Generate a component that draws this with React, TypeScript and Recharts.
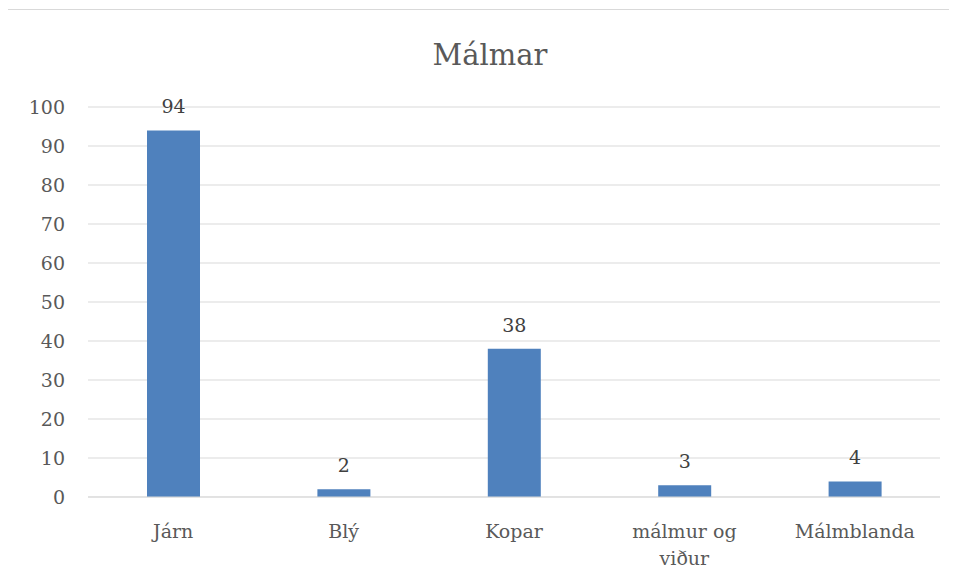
import { Bar, BarChart, CartesianGrid, LabelList, XAxis, YAxis, Text } from "recharts";

const CATEGORIES = ["Járn", "Blý", "Kopar", "málmur og viður", "Málmblanda"];
const VALUES = [94, 2, 38, 3, 4];
const Y_TICKS = [0, 10, 20, 30, 40, 50, 60, 70, 80, 90, 100];

const FONT = '"DejaVu Serif", serif';
const BAR_COLOR = "#4f81bd";
const GRID = "#d9d9d9";

const data = CATEGORIES.map((name, i) => ({ name, value: VALUES[i] }));

const CategoryTick = ({ x, y, payload }: any) => (
  <Text
    x={x}
    y={y + 20}
    width={130}
    textAnchor="middle"
    verticalAnchor="start"
    lineHeight={27}
    style={{ fontFamily: FONT, fontSize: 19 }}
    fill="#595959"
  >
    {payload.value}
  </Text>
);

export default function App() {
  return (
    <div
      style={{
        position: "relative",
        boxSizing: "border-box",
        width: 947,
        height: 600,
        margin: "1px 0 0 -3px",
        border: `1px solid ${GRID}`,
        background: "#fff",
      }}
    >
      <div
        style={{
          position: "absolute",
          left: 0,
          top: 30,
          width: 968,
          textAlign: "center",
          fontFamily: FONT,
          fontSize: 29,
          lineHeight: "30px",
          color: "#595959",
        }}
      >
        Málmar
      </div>
      <BarChart
        width={945}
        height={580}
        data={data}
        margin={{ top: 97, right: 11, left: 22, bottom: 33 }}
        barCategoryGap={0}
      >
        <CartesianGrid stroke={GRID} vertical={false} />
        <XAxis
          dataKey="name"
          axisLine={{ stroke: GRID }}
          tickLine={false}
          height={60}
          interval={0}
          tick={<CategoryTick />}
        />
        <YAxis
          domain={[0, 100]}
          ticks={Y_TICKS}
          width={60}
          axisLine={false}
          tickLine={false}
          tickMargin={17}
          tick={{ fontFamily: FONT, fontSize: 19, fill: "#595959" }}
        />
        <Bar dataKey="value" fill={BAR_COLOR} barSize={53} isAnimationActive={false}>
          <LabelList
            dataKey="value"
            position="top"
            offset={17}
            fontFamily={FONT}
            fontSize={19}
            fill="#404040"
          />
        </Bar>
      </BarChart>
    </div>
  );
}
